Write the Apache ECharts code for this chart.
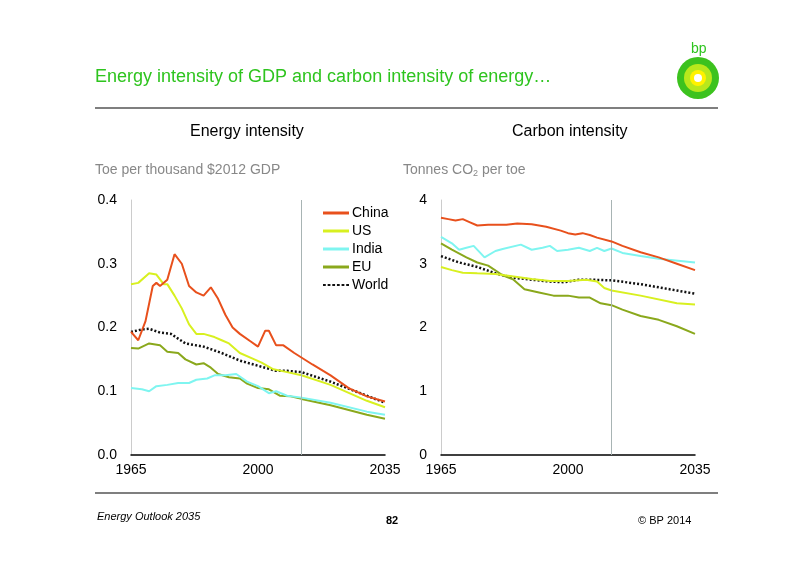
<!DOCTYPE html>
<html><head><meta charset="utf-8">
<script src="https://cdn.jsdelivr.net/npm/echarts@6/dist/echarts.min.js"></script>
<style>html,body{margin:0;background:#fff}#c{width:800px;height:566px}</style>
</head><body><div id="c"></div>
<script>
// Energy intensity (toe per thousand $2012 GDP)
const eiChina = [[1965,.193],[1967,.18],[1969,.21],[1971,.265],[1972,.27],[1973,.265],[1975,.275],[1977,.315],[1979,.30],[1981,.265],[1983,.255],[1985,.25],[1987,.263],[1989,.245],[1991,.22],[1993,.20],[1995,.19],[1998,.178],[2000,.17],[2002,.195],[2003,.195],[2005,.172],[2007,.172],[2010,.16],[2015,.142],[2020,.125],[2025,.105],[2030,.092],[2035,.084]];
const eiUS = [[1965,.268],[1967,.27],[1970,.285],[1972,.283],[1974,.268],[1975,.268],[1977,.25],[1979,.23],[1981,.205],[1983,.19],[1985,.19],[1988,.185],[1990,.18],[1992,.175],[1995,.16],[1999,.15],[2001,.145],[2004,.135],[2008,.13],[2012,.125],[2020,.11],[2030,.085],[2035,.075]];
const eiIndia = [[1965,.105],[1968,.103],[1970,.1],[1972,.108],[1975,.11],[1978,.113],[1981,.113],[1983,.118],[1986,.12],[1988,.125],[1991,.125],[1994,.127],[1997,.115],[2000,.108],[2003,.097],[2005,.1],[2008,.093],[2012,.09],[2020,.082],[2030,.068],[2035,.063]];
const eiEU = [[1965,.168],[1967,.167],[1970,.175],[1973,.172],[1975,.162],[1978,.16],[1980,.15],[1983,.142],[1985,.144],[1987,.137],[1989,.127],[1992,.122],[1995,.12],[1997,.112],[2000,.105],[2003,.103],[2006,.093],[2009,.092],[2012,.088],[2020,.078],[2030,.063],[2035,.057]];
const eiWorld = [[1965,.193],[1968,.197],[1970,.198],[1973,.192],[1976,.19],[1980,.175],[1985,.17],[1990,.16],[1995,.148],[2000,.14],[2005,.132],[2008,.132],[2012,.13],[2020,.115],[2030,.093],[2035,.082]];
// Carbon intensity (tonnes CO2 per toe)
const ciChina = [[1965,3.72],[1967,3.7],[1969,3.68],[1971,3.7],[1973,3.65],[1975,3.6],[1978,3.61],[1983,3.61],[1986,3.63],[1990,3.62],[1994,3.58],[1998,3.52],[2000,3.48],[2002,3.46],[2004,3.48],[2006,3.45],[2008,3.41],[2012,3.35],[2015,3.28],[2020,3.18],[2025,3.1],[2030,3.0],[2035,2.9]];
const ciUS = [[1965,2.95],[1968,2.9],[1971,2.86],[1975,2.85],[1980,2.84],[1985,2.8],[1990,2.76],[1995,2.73],[2000,2.73],[2005,2.75],[2008,2.72],[2010,2.62],[2012,2.58],[2020,2.5],[2030,2.38],[2035,2.36]];
const ciIndia = [[1965,3.42],[1968,3.32],[1970,3.22],[1972,3.25],[1974,3.28],[1977,3.1],[1980,3.2],[1982,3.23],[1987,3.3],[1990,3.22],[1993,3.25],[1995,3.28],[1997,3.2],[2000,3.22],[2003,3.25],[2006,3.2],[2008,3.25],[2010,3.2],[2012,3.24],[2015,3.17],[2020,3.12],[2025,3.08],[2035,3.02]];
const ciEU = [[1965,3.32],[1968,3.22],[1972,3.1],[1975,3.02],[1978,2.97],[1982,2.82],[1985,2.75],[1988,2.6],[1992,2.55],[1996,2.5],[2000,2.5],[2003,2.47],[2006,2.47],[2009,2.38],[2012,2.35],[2015,2.28],[2020,2.18],[2025,2.12],[2030,2.02],[2035,1.9]];
const ciWorld = [[1965,3.12],[1970,3.02],[1975,2.95],[1980,2.85],[1985,2.78],[1990,2.75],[1995,2.72],[1999,2.71],[2003,2.75],[2006,2.75],[2012,2.74],[2020,2.68],[2030,2.58],[2035,2.53]];
const names = ['China','US','India','EU','World'];
const colors = ['#e8501c','#d8f020','#7ff5f0','#8aa81c','#111'];
const projStart = 2012;

const font = 'Liberation Sans, Arial, sans-serif';
function mkSeries(arrs, idx) {
  return arrs.map((d, i) => ({
    name: names[i], type: 'line', xAxisIndex: idx, yAxisIndex: idx, data: d,
    showSymbol: false, smooth: false, z: 5 - i,
    lineStyle: {color: colors[i], width: i == 4 ? 2.5 : 2, type: i == 4 ? [2, 2] : 'solid'},
    itemStyle: {color: colors[i]},
    markLine: i == 0 ? {silent: true, symbol: 'none', label: {show: false},
      lineStyle: {color: '#a8b4b4', width: 1, type: 'solid'}, data: [{xAxis: projStart}]} : undefined
  }));
}
const xAx = i => ({type: 'value', gridIndex: i, min: 1965, max: 2035, interval: 35,
  axisLine: {lineStyle: {color: '#000', width: 1.5}}, axisTick: {show: false}, splitLine: {show: false},
  axisLabel: {color: '#000', fontSize: 14, fontFamily: font, margin: 8, formatter: v => String(v)}});
const yAx = (i, max, iv, dec) => ({type: 'value', gridIndex: i, min: 0, max: max, interval: iv,
  axisLine: {show: true, lineStyle: {color: '#ccc'}}, axisTick: {show: false},
  splitLine: {show: false},
  axisLabel: {color: '#000', fontSize: 14, fontFamily: font, margin: 14, formatter: v => v.toFixed(dec)}});

const chart = echarts.init(document.getElementById('c'));
chart.setOption({
  animation: false,
  grid: [{left: 131, top: 200, width: 254, height: 255}, {left: 441, top: 200, width: 254, height: 255}],
  xAxis: [xAx(0), xAx(1)],
  yAxis: [yAx(0, 0.4, 0.1, 1), yAx(1, 4, 1, 0)],
  legend: {left: 318, top: 201, orient: 'vertical', itemGap: 4, itemWidth: 26, itemHeight: 3,
    textStyle: {fontSize: 14, fontFamily: font, color: '#000', padding: [0, 0, 0, -2]},
    data: names.map((n, i) => ({name: n,
      icon: i == 4 ? 'path://M0,0h3v2h-3zM5,0h3v2h-3zM10,0h3v2h-3zM15,0h3v2h-3zM20,0h3v2h-3zM25,0h3v2h-3z' : 'rect',
      itemStyle: {color: colors[i]}}))},
  series: mkSeries([eiChina, eiUS, eiIndia, eiEU, eiWorld], 0).concat(mkSeries([ciChina, ciUS, ciIndia, ciEU, ciWorld], 1)),
  graphic: [
    {type: 'text', left: 95, top: 68, style: {text: 'Energy intensity of GDP and carbon intensity of energy…', fill: '#2ec41e', font: '18px ' + font}},
    {type: 'line', shape: {x1: 95, y1: 108, x2: 718, y2: 108}, style: {stroke: '#000', lineWidth: 1.2}},
    {type: 'line', shape: {x1: 95, y1: 493, x2: 718, y2: 493}, style: {stroke: '#000', lineWidth: 1.2}},
    {type: 'text', left: 190, top: 124, style: {text: 'Energy intensity', fill: '#000', font: '16px ' + font}},
    {type: 'text', left: 512, top: 124, style: {text: 'Carbon intensity', fill: '#000', font: '16px ' + font}},
    {type: 'text', left: 95, top: 163, style: {text: 'Toe per thousand $2012 GDP', fill: '#888', font: '14px ' + font}},
    {type: 'text', left: 403, top: 163, style: {text: '{a|Tonnes CO}{s|2}{a| per toe}',
      rich: {a: {fill: '#888', fontSize: 14, fontFamily: font}, s: {fill: '#888', fontSize: 9, fontFamily: font, padding: [8, 0, 0, 0]}}}},
    {type: 'text', left: 97, top: 511, style: {text: 'Energy Outlook 2035', fill: '#000', font: 'italic 11px ' + font}},
    {type: 'text', left: 386, top: 515, style: {text: '82', fill: '#000', font: 'bold 11px ' + font}},
    {type: 'text', left: 638, top: 515, style: {text: '© BP 2014', fill: '#000', font: '11px ' + font}},
    // bp logo
    {type: 'text', left: 691, top: 42, style: {text: 'bp', fill: '#2ec41e', font: '14px ' + font}},
    {type: 'circle', shape: {cx: 698, cy: 78, r: 21}, style: {fill: '#3cc21e'}},
    {type: 'circle', shape: {cx: 698, cy: 78, r: 14}, style: {fill: '#b8e81c'}},
    {type: 'circle', shape: {cx: 698, cy: 78, r: 8}, style: {fill: '#fff200'}},
    {type: 'circle', shape: {cx: 698, cy: 78, r: 4}, style: {fill: '#fff'}}
  ]
});
</script></body></html>
